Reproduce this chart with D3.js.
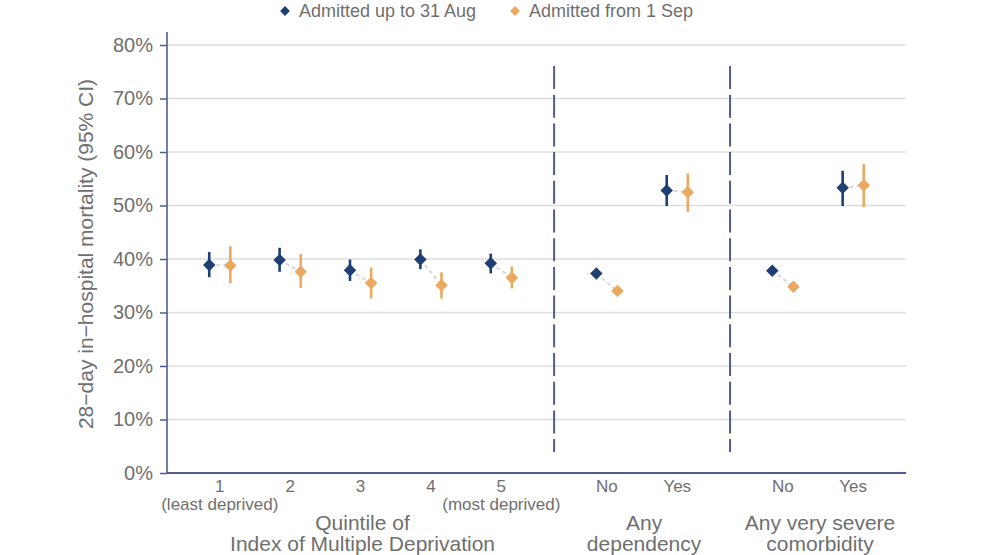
<!DOCTYPE html>
<html>
<head>
<meta charset="utf-8">
<script src="https://cdn.jsdelivr.net/npm/d3@7"></script>
<style>
  body { margin: 0; background: #fff; }
  svg { display: block; font-family: "Liberation Sans", Arial, sans-serif; }
</style>
</head>
<body>
<svg width="987" height="555"></svg>
<script>
// ---- data ----
var groups = [["Quintile of", "Index of Multiple Deprivation"], ["Any", "dependency"], ["Any very severe", "comorbidity"]];
var categories = ["1", "2", "3", "4", "5", "No", "Yes", "No", "Yes"];
var subLabels = ["(least deprived)", "", "", "", "(most deprived)", "", "", "", ""];
var groupOf = [0, 0, 0, 0, 0, 1, 1, 2, 2];
var series = ["Admitted up to 31 Aug", "Admitted from 1 Sep"];

// mortality (%), lower and upper 95% CI
var earlyMid = [38.9, 39.8, 37.9, 39.9, 39.2, 37.3, 52.8, 37.8, 53.3];
var earlyLo  = [36.6, 37.6, 35.9, 38.1, 37.3, 36.7, 49.9, 37.2, 49.9];
var earlyHi  = [41.3, 42.1, 39.9, 41.8, 41.0, 37.9, 55.7, 38.4, 56.5];
var lateMid  = [38.8, 37.6, 35.5, 35.1, 36.5, 34.0, 52.5, 34.8, 53.8];
var lateLo   = [35.5, 34.6, 32.6, 32.6, 34.5, 33.4, 48.8, 34.1, 49.7];
var lateHi   = [42.4, 40.9, 38.4, 37.5, 38.6, 34.6, 56.0, 35.5, 57.8];

var yTicks = [0, 10, 20, 30, 40, 50, 60, 70, 80];
var colors = ["#1f3f73", "#eba95f"];

// ---- layout ----
var svg = d3.select("svg"),
    margin = {top: 45, right: 81, bottom: 82, left: 167},
    width = +svg.attr("width") - margin.left - margin.right,
    height = +svg.attr("height") - margin.top - margin.bottom,
    g = svg.append("g").attr("transform", "translate(" + margin.left + "," + margin.top + ")");

var textCol = "#6f6f6f", axisCol = "#4f5d8c";

var y = d3.scaleLinear().domain([0, 80]).range([height, 0]);

// each panel is (n - 1 + 2*0.75) steps wide
var pad = 0.75;
var panelUnits = groups.map(function(_, gi) {
  var n = groupOf.filter(function(v) { return v === gi; }).length;
  return n - 1 + 2 * pad;
});
var unitScale = d3.scaleLinear().domain([0, d3.sum(panelUnits)]).range([0, width]);
var panels = [], acc = 0;
groups.forEach(function(grp, gi) {
  var idx = d3.range(categories.length).filter(function(i) { return groupOf[i] === gi; });
  var x0 = unitScale(acc), x1 = unitScale(acc + panelUnits[gi]);
  acc += panelUnits[gi];
  panels.push({idx: idx, x0: x0, x1: x1, scale: d3.scalePoint().domain(idx).range([x0, x1]).padding(pad)});
});
function xPos(i) { return panels[groupOf[i]].scale(i); }
var dodge = panels[0].scale.step() * 0.15;

// gridlines
g.append("g")
  .selectAll("line")
  .data(yTicks)
  .enter().append("line")
    .attr("x1", 0).attr("x2", width)
    .attr("y1", function(d) { return y(d); })
    .attr("y2", function(d) { return y(d); })
    .attr("stroke", "#dedede")
    .attr("stroke-width", 1.6);

// y axis
var yAxis = g.append("g")
    .call(d3.axisLeft(y).tickValues(yTicks).tickFormat(function(d) { return d + "%"; }).tickSize(7).tickPadding(7));
yAxis.select(".domain").remove();
yAxis.selectAll("line").attr("stroke", axisCol).attr("stroke-width", 1.5);
yAxis.selectAll("text")
    .attr("fill", textCol)
    .style("font-size", "20px")
    .style("font-family", "Liberation Sans, Arial, sans-serif");

g.append("line")
    .attr("x1", 0).attr("x2", 0)
    .attr("y1", -13).attr("y2", height)
    .attr("stroke", axisCol).attr("stroke-width", 1.6);
g.append("line")
    .attr("x1", 0).attr("x2", width)
    .attr("y1", height).attr("y2", height)
    .attr("stroke", axisCol).attr("stroke-width", 2);

// y label
g.append("text")
    .attr("transform", "translate(-74," + (height / 2 - 5) + ") rotate(-90)")
    .attr("text-anchor", "middle")
    .attr("fill", textCol)
    .style("font-size", "21px")
    .text("28\u2212day in\u2212hospital mortality (95% CI)");

// panel dividers
g.append("g")
  .selectAll("line")
  .data(panels.slice(1))
  .enter().append("line")
    .attr("x1", function(d) { return d.x0; })
    .attr("x2", function(d) { return d.x0; })
    .attr("y1", 21).attr("y2", 407)
    .attr("stroke", axisCol)
    .attr("stroke-width", 2)
    .attr("stroke-dasharray", "23,5.7");

// category labels
var catG = g.append("g").attr("fill", textCol).attr("text-anchor", "middle");
catG.selectAll(".cat")
  .data(categories)
  .enter().append("text")
    .attr("class", "cat")
    .attr("x", function(d, i) { return xPos(i); })
    .attr("y", height + 19)
    .style("font-size", "17px")
    .text(function(d) { return d; });
catG.selectAll(".sub")
  .data(subLabels)
  .enter().append("text")
    .attr("class", "sub")
    .attr("x", function(d, i) { return xPos(i); })
    .attr("y", height + 37)
    .style("font-size", "17px")
    .text(function(d) { return d; });

// group titles
var gt = g.append("g").attr("fill", textCol).attr("text-anchor", "middle")
  .selectAll("text")
  .data(panels)
  .enter().append("text")
    .attr("x", function(d) { return (d.x0 + d.x1) / 2 + 2; })
    .attr("y", height + 57)
    .style("font-size", "21px");
gt.append("tspan")
    .attr("x", function(d) { return (d.x0 + d.x1) / 2 + 2; })
    .text(function(d, i) { return groups[i][0]; });
gt.append("tspan")
    .attr("x", function(d) { return (d.x0 + d.x1) / 2 + 2; })
    .attr("dy", 21)
    .text(function(d, i) { return groups[i][1]; });

// connecting dashed lines
var pts = d3.range(categories.length);
g.append("g")
  .selectAll("line")
  .data(pts)
  .enter().append("line")
    .attr("x1", function(i) { return xPos(i) - dodge; })
    .attr("y1", function(i) { return y(earlyMid[i]); })
    .attr("x2", function(i) { return xPos(i) + dodge; })
    .attr("y2", function(i) { return y(lateMid[i]); })
    .attr("stroke", "#d6d9e0")
    .attr("stroke-width", 2)
    .attr("stroke-dasharray", "4,3");

var seriesData = [
  {mid: earlyMid, lo: earlyLo, hi: earlyHi, off: -dodge},
  {mid: lateMid, lo: lateLo, hi: lateHi, off: dodge}
];
var diamond = d3.symbol().type(d3.symbolSquare).size(78);

seriesData.forEach(function(s, si) {
  var sg = g.append("g");
  sg.selectAll("line")
    .data(pts)
    .enter().append("line")
      .attr("x1", function(i) { return xPos(i) + s.off; })
      .attr("x2", function(i) { return xPos(i) + s.off; })
      .attr("y1", function(i) { return y(s.lo[i]); })
      .attr("y2", function(i) { return y(s.hi[i]); })
      .attr("stroke", colors[si])
      .attr("stroke-width", 2.6);
  sg.selectAll("path")
    .data(pts)
    .enter().append("path")
      .attr("d", diamond)
      .attr("transform", function(i) { return "translate(" + (xPos(i) + s.off) + "," + y(s.mid[i]) + ") rotate(45)"; })
      .attr("fill", colors[si]);
});

// legend
var legendX = [285, 515];
var lg = svg.append("g")
  .selectAll("g")
  .data(series)
  .enter().append("g")
    .attr("transform", function(d, i) { return "translate(" + legendX[i] + ",11)"; });
lg.append("path")
    .attr("d", d3.symbol().type(d3.symbolSquare).size(48))
    .attr("transform", "rotate(45)")
    .attr("fill", function(d, i) { return colors[i]; });
lg.append("text")
    .attr("x", 14)
    .attr("dy", "0.35em")
    .attr("fill", textCol)
    .style("font-size", "18px")
    .text(function(d) { return d; });
</script>
</body>
</html>
